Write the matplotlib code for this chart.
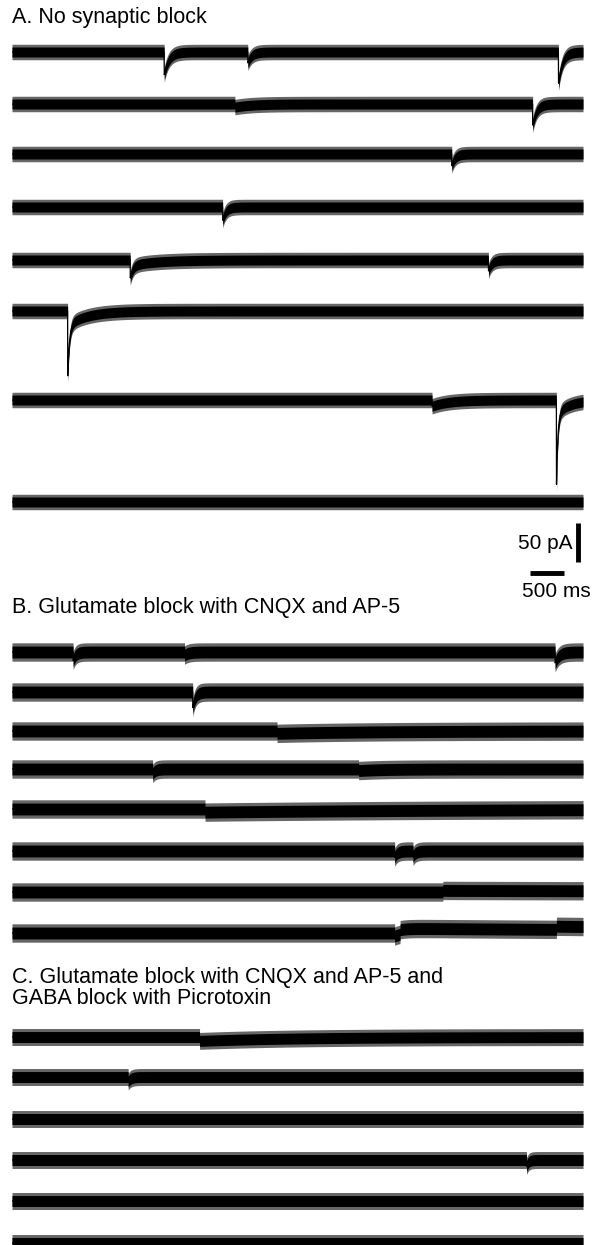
import numpy as np
import matplotlib
matplotlib.use("Agg")
import matplotlib.pyplot as plt

plt.rcParams['font.family'] = ['Liberation Sans', 'DejaVu Sans']

W, H = 592, 1245
DURATION = 8.4          # s per sweep
PX_PER_PA = 39 / 50.0   # 50 pA scale bar is 39 px tall

titles = ["A. No synaptic block",
          "B. Glutamate block with CNQX and AP-5",
          "C. Glutamate block with CNQX and AP-5 and\nGABA block with Picrotoxin"]

# baseline of each sweep (pixel row from the top)
rows_a = [52, 104, 154, 207, 260, 311, 400, 502]
rows_b = [652, 692, 731, 769, 809, 851, 892, 933]
rows_c = [1037, 1077, 1119, 1160, 1201, 1243]

# half width of the baseline noise band (pA)
noise_a = 6.4
noise_b = 7.6
noise_c = 7.0

# synaptic currents: (sweep, onset s, amplitude pA, decay ms); negative amp = upward shift
events_a = [(0, 2.24, 29, 70), (0, 3.47, 14, 60), (0, 8.04, 40, 60),
            (1, 3.28, 4, 250), (1, 7.66, 27, 60),
            (2, 6.47, 15, 50),
            (3, 3.10, 17, 50),
            (4, 1.74, 16, 40), (4, 1.74, 7, 400), (4, 7.01, 14, 50),
            (5, 0.82, 65, 25), (5, 0.82, 18, 300),
            (6, 6.18, 8, 250), (6, 8.01, 90, 20), (6, 8.01, 18, 200)]

events_b = [(0, 0.90, 11, 40), (0, 2.54, 4, 60), (0, 7.99, 14, 60),
            (1, 2.66, 20, 40),
            (2, 3.90, 3, 1500),
            (3, 2.07, 6, 40), (3, 5.10, 2, 400),
            (4, 2.84, 4, 4000),
            (5, 5.63, 8, 40), (5, 5.90, 7, 40),
            (6, 6.34, -2, 9000),
            (7, 5.63, 4, 100), (7, 5.71, -6, 9000), (7, 8.01, -4, 9000)]

events_c = [(0, 2.76, 5, 1500),
            (1, 1.71, 6, 40),
            (3, 7.57, 8, 30)]

t = np.linspace(0, DURATION, 4201)


def sweep(events, row):
    y = np.zeros_like(t)
    for r, t0, amp, tau in events:
        if r != row:
            continue
        on = t >= t0
        y[on] -= amp * np.exp(-(t[on] - t0) / (tau / 1000.0))
    return y


def row_axes(fig, yc, above=30, below=120):
    left, right = 12, 583
    ax = fig.add_axes([left / W, 1 - (yc + below) / H, (right - left) / W, (above + below) / H])
    ax.set_xlim(0, DURATION)
    ax.set_ylim(-below / PX_PER_PA, above / PX_PER_PA)
    ax.axis('off')
    ax.patch.set_alpha(0)
    return ax


fig = plt.figure(figsize=(W / 100, H / 100), dpi=100)

panels = [(rows_a, events_a, noise_a), (rows_b, events_b, noise_b), (rows_c, events_c, noise_c)]
axes_a = []
for rows, events, hw in panels:
    for i, yc in enumerate(rows):
        ax = row_axes(fig, yc)
        y = sweep(events, i)
        ax.fill_between(t, y - 1.55 * hw, y + 1.55 * hw, color='0.4', lw=0)
        ax.fill_between(t, y - hw, y + hw, color='black', lw=0)
        ax.plot(t, y, color='black', lw=0.9)
        if rows is rows_a:
            axes_a.append(ax)

# scale bars under the last sweep of panel A
ax = axes_a[-1]
ax.plot([8.32, 8.32], [-27, -77], color='black', lw=3.5, solid_capstyle='butt', clip_on=False)
ax.plot([7.62, 8.12], [-91, -91], color='black', lw=3.5, solid_capstyle='butt', clip_on=False)
ax.text(8.25, -52.6, "50 pA", ha='right', va='center', fontsize=15)
ax.text(8.01, -115, "500 ms", ha='center', va='center', fontsize=15)

fig.text(12 / W, 1 - 18 / H, titles[0], va='center', ha='left', fontsize=15.5)
fig.text(12 / W, 1 - 607 / H, titles[1], va='center', ha='left', fontsize=15.5)
fig.text(12 / W, 1 - 988 / H, titles[2], va='center', ha='left', fontsize=15.5, linespacing=1.0)

fig.savefig("out.png", dpi=100)
